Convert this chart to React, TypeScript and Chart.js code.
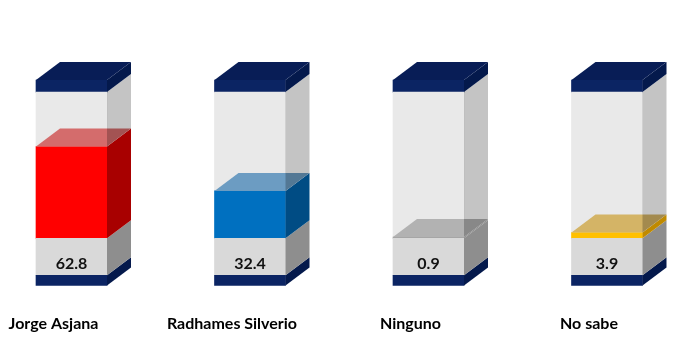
import React, { useEffect, useRef } from 'react';
import { Chart, registerables } from 'chart.js';

Chart.register(...registerables);

// ---- data ----
const CATEGORIES = ['Jorge Asjana', 'Radhames Silverio', 'Ninguno', 'No sabe'];
const VALUES = [62.8, 32.4, 0.9, 3.9];
const FULL = 100; // container height (100%)
const CAP_BOTTOM_RANGE = [-32.2, -25.3];
const BASE_RANGE = [-25.3, 0];
const CAP_TOP_RANGE = [100, 108.2];

// ---- styles ----
const FRONT = ['#FF0000', '#0070C0', '#A6A6A6', '#FFC000'];
const SIDE = ['#A80000', '#004C84', '#8A8A8A', '#C08A00'];
const TOPF = ['#D46C6C', '#6C9CC2', '#B2B2B2', '#D4B466'];
const NAVY_FRONT = '#0B2463';
const NAVY_TOP = '#081D56';
const NAVY_SIDE = '#04194C';
const BASE_FRONT = '#D9D9D9';
const BASE_SIDE = '#8E8E8E';
const BOX_FRONT = '#E9E9E9';
const BOX_SIDE_OVERLAY = 'rgba(0,0,0,0.23)';
const DX = 24;
const DY = -18;
const FONT = 'Lato, "Open Sans", sans-serif';

const box3d = {
  id: 'box3d',
  afterDatasetsDraw(chart: any) {
    const ctx = chart.ctx as CanvasRenderingContext2D;
    const metas = [0, 1, 2, 3, 4].map((d) => chart.getDatasetMeta(d));
    const geom = (d: number, i: number) => {
      const p = metas[d].data[i].getProps(['x', 'y', 'base', 'width'], true);
      return {
        l: p.x - p.width / 2,
        r: p.x + p.width / 2,
        top: Math.min(p.y, p.base),
        bot: Math.max(p.y, p.base),
        cx: p.x,
      };
    };
    const poly = (pts: number[][], color: string) => {
      ctx.beginPath();
      ctx.moveTo(pts[0][0], pts[0][1]);
      for (let k = 1; k < pts.length; k++) ctx.lineTo(pts[k][0], pts[k][1]);
      ctx.closePath();
      ctx.fillStyle = color;
      ctx.fill();
    };
    const side = (g: any, color: string) =>
      poly([[g.r, g.top], [g.r + DX, g.top + DY], [g.r + DX, g.bot + DY], [g.r, g.bot]], color);
    const topFace = (g: any, color: string) =>
      poly([[g.l, g.top], [g.r, g.top], [g.r + DX, g.top + DY], [g.l + DX, g.top + DY]], color);

    ctx.save();
    for (let i = 0; i < CATEGORIES.length; i++) {
      const capB = geom(0, i);
      const base = geom(1, i);
      const val = geom(2, i);
      const rem = geom(3, i);
      const capT = geom(4, i);
      side(capB, NAVY_SIDE);
      side(base, BASE_SIDE);
      side(val, SIDE[i]);
      topFace(val, TOPF[i]);
      side(rem, BOX_SIDE_OVERLAY);
      side(capT, NAVY_SIDE);
      topFace(capT, NAVY_TOP);

      ctx.fillStyle = '#111111';
      ctx.font = `bold 16px ${FONT}`;
      ctx.textAlign = 'center';
      ctx.textBaseline = 'middle';
      ctx.fillText(VALUES[i].toFixed(1), base.cx, base.top + (base.bot - base.top) * 0.68);
    }
    ctx.restore();
  },
};

export default function App() {
  const ref = useRef<HTMLCanvasElement>(null);
  useEffect(() => {
    if (!ref.current) return;
    const common = { grouped: false, borderWidth: 0, barThickness: 71, clip: false as any };
    const chart = new Chart(ref.current, {
      type: 'bar',
      data: {
        labels: CATEGORIES,
        datasets: [
          { ...common, label: 'capBottom', data: CATEGORIES.map(() => CAP_BOTTOM_RANGE) as any, backgroundColor: NAVY_FRONT },
          { ...common, label: 'base', data: CATEGORIES.map(() => BASE_RANGE) as any, backgroundColor: BASE_FRONT },
          { ...common, label: 'value', data: VALUES.map((v) => [0, v]) as any, backgroundColor: FRONT },
          { ...common, label: 'rest', data: VALUES.map((v) => [v, FULL]) as any, backgroundColor: BOX_FRONT },
          { ...common, label: 'capTop', data: CATEGORIES.map(() => CAP_TOP_RANGE) as any, backgroundColor: NAVY_FRONT },
        ],
      },
      options: {
        responsive: false,
        animation: false,
        layout: { padding: { left: 71.5, right: 83, top: 62.8, bottom: 7 } },
        plugins: { legend: { display: false }, tooltip: { enabled: false } },
        scales: {
          x: {
            type: 'category',
            offset: false,
            grid: { display: false, drawTicks: false },
            border: { display: false },
            ticks: {
              color: '#000000',
              font: { family: FONT, size: 16, weight: 'bold' },
              padding: 17,
              labelOffset: -18,
              maxRotation: 0,
              autoSkip: false,
            },
          },
          y: {
            display: false,
            min: -40,
            max: 120,
          },
        },
      },
      plugins: [box3d],
    });
    return () => chart.destroy();
  }, []);
  return (
    <div style={{ position: 'fixed', left: 0, top: 0, width: 690, height: 357, background: '#ffffff' }}>
      <canvas ref={ref} width={690} height={357} style={{ display: 'block' }} />
    </div>
  );
}
